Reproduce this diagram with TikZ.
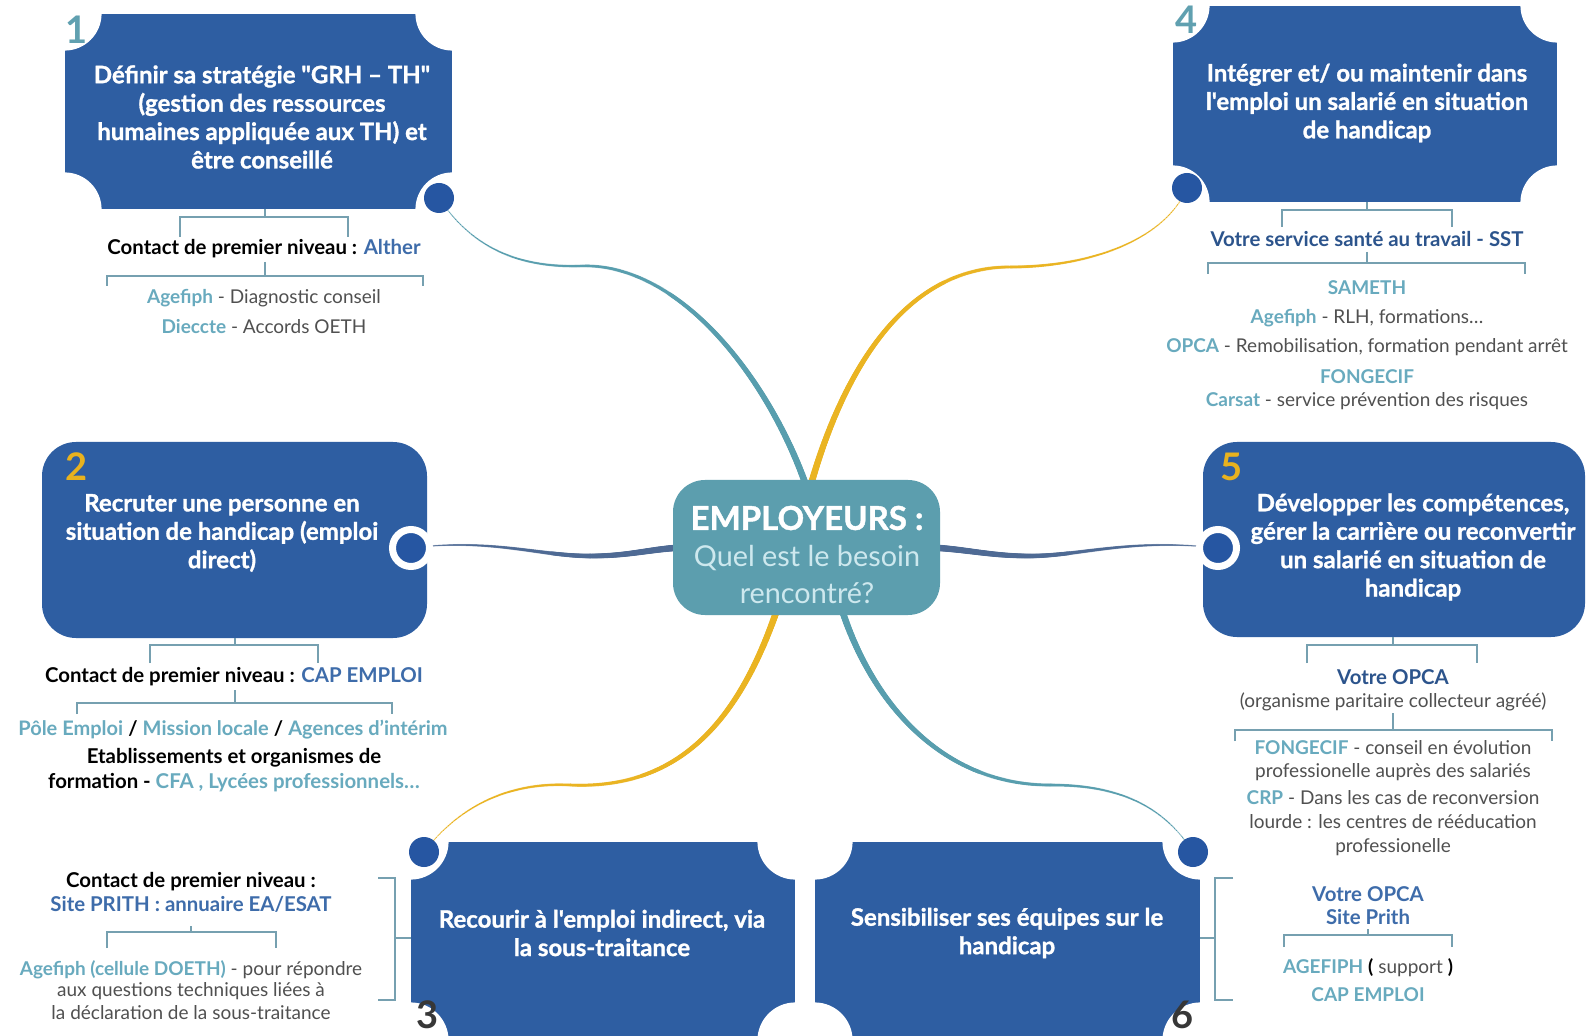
\documentclass[tikz,border=0pt]{standalone}
\usepackage{fontspec}
\setmainfont{Lato}
\newfontfamily\heavyfont{Lato}[BoldFeatures={FakeBold=1.2}]
\usetikzlibrary{decorations.markings,calc}
\definecolor{boxblue}{RGB}{46,94,162}
\definecolor{dotblue}{RGB}{38,86,162}
\definecolor{tealc}{RGB}{88,158,174}
\definecolor{goldc}{RGB}{234,180,34}
\definecolor{slatec}{RGB}{78,106,148}
\definecolor{cfill}{RGB}{92,158,174}
\definecolor{lteal}{RGB}{104,170,190}
\definecolor{midblue}{RGB}{62,108,170}
\definecolor{darkblue}{RGB}{44,84,140}
\definecolor{graytxt}{RGB}{80,80,80}
\definecolor{brkc}{RGB}{118,160,176}
\definecolor{numteal}{RGB}{96,160,176}
\definecolor{numgold}{RGB}{232,178,30}
\definecolor{numdark}{RGB}{55,55,55}
\definecolor{csub}{RGB}{205,232,238}
\newcommand\tealb[1]{{\color{lteal}\bfseries #1}}
\newcommand\blueb[1]{{\color{midblue}\bfseries #1}}
\newcommand\darkb[1]{{\color{darkblue}\bfseries #1}}
\pgfdeclarelayer{bgw}
\pgfdeclarelayer{boxes}
\pgfdeclarelayer{conn}
\pgfsetlayers{bgw,boxes,conn,main}
\begin{document}
\begin{tikzpicture}[x=0.5pt,y=-0.5pt,
  nbox/.style={rectangle, fill=boxblue, inner sep=0pt, draw=none},
  btxt/.style={text=white, font=\fontsize{12}{14.2}\selectfont\heavyfont\bfseries, align=center, inner sep=0pt},
  ctxt/.style={font=\fontsize{10.2}{12}\selectfont\bfseries, inner sep=0pt, text=black},
  gtxt/.style={font=\fontsize{9.5}{11}\selectfont, inner sep=0pt, text=graytxt},
  brk/.style={draw=brkc, line width=0.8pt},
  dot/.style={circle, fill=dotblue, minimum size=15pt, inner sep=0pt},
  rdot/.style={circle, fill=dotblue, draw=white, line width=3.5pt, minimum size=18.5pt, inner sep=0pt},
  num/.style={font=\fontsize{19}{19}\selectfont\bfseries, inner sep=0pt},
  taper/.style n args={3}{decorate, decoration={markings,
      mark=between positions 0 and 1 step 0.5pt with {%
        \pgfmathsetmacro\tpr{#2+(#3-#2)*\pgfkeysvalueof{/pgf/decoration/mark info/distance from start}/\pgfdecoratedpathlength}%
        \fill[#1] (0,0) circle[radius=\tpr pt];}}}
]
\useasboundingbox (0,0) rectangle (1588,1036);
\begin{pgfonlayer}{bgw}
\fill[white] (0,0) rectangle (1588,1036);
\end{pgfonlayer}

% ---------- boxes ----------
\begin{pgfonlayer}{boxes}
\node[nbox, minimum width=193.5pt, minimum height=97.5pt] (b1) at (258.5,111.5) {};
\node[nbox, minimum width=192pt, minimum height=98pt] (b4) at (1365,104) {};
\node[nbox, minimum width=192pt, minimum height=99pt] (b3) at (603,941) {};
\node[nbox, minimum width=192.5pt, minimum height=99pt] (b6) at (1007.5,941) {};
\node[nbox, rounded corners=17pt, minimum width=192.5pt, minimum height=98pt] (b2) at (234.5,540) {};
\node[nbox, rounded corners=17pt, minimum width=191pt, minimum height=97.5pt] (b5) at (1394,539.5) {};
\foreach \a in {north west,north east,south west,south east}{
  \fill[white] (b1.\a) circle[radius=18.5pt];
  \fill[white] (b4.\a) circle[radius=18.5pt];
  \fill[white] (b3.\a) circle[radius=19pt];
  \fill[white] (b6.\a) circle[radius=19pt];
}
\end{pgfonlayer}

% ---------- centre ----------
\node[rectangle, fill=cfill, rounded corners=16pt, minimum width=133.5pt, minimum height=67.5pt, inner sep=0pt] (cn) at (806.5,547.5) {};
\node[font=\fontsize{16.5}{16}\selectfont\heavyfont\bfseries, text=white, inner sep=0pt] (ce) at (807,518) {EMPLOYEURS :};
\node[font=\fontsize{14.4}{14}\selectfont, text=csub, inner sep=0pt] (cq) at (807,558) {Quel est le besoin};
\node[font=\fontsize{14.4}{14}\selectfont, text=csub, inner sep=0pt] (cr) at (807,593) {rencontré?};

% ---------- dots ----------
\node[dot] (d1) at (439,198) {};
\node[dot] (d4) at (1187,188) {};
\node[dot] (d3) at (424,852) {};
\node[dot] (d6) at (1193,852) {};
\node[rdot] (d2) at (411,548) {};
\node[rdot] (d5) at (1218,548) {};

% ---------- connectors ----------
\begin{pgfonlayer}{conn}
\path[taper={tealc}{0.25}{1.7}] (d1.center) .. controls (470,245) and (515,268) .. (580,266) .. controls (680,262) and (770,380) .. ($(cn.north)+(1,10)$);
\path[taper={goldc}{0.25}{1.7}] (d4.center) .. controls (1165,240) and (1090,267) .. (1010,267) .. controls (900,267) and (840,380) .. ($(cn.north)+(3,10)$);
\path[taper={goldc}{0.25}{1.7}] (d3.center) .. controls (460,805) and (510,782) .. (570,785) .. controls (680,790) and (740,720) .. ($(cn.south)+(-28,-10)$);
\path[taper={tealc}{0.25}{1.7}] (d6.center) .. controls (1160,800) and (1110,785) .. (1050,785) .. controls (940,785) and (870,700) .. ($(cn.south)+(34,-10)$);
\path[taper={slatec}{0.25}{1.7}] (d2.center) .. controls (490,538) and (540,556) .. (590,556) .. controls (630,556) and (650,549) .. ($(cn.west)+(10,0)$);
\path[taper={slatec}{0.25}{1.7}] (d5.center) .. controls (1130,538) and (1080,556) .. (1030,556) .. controls (990,556) and (965,549) .. ($(cn.east)+(-10,0)$);
\end{pgfonlayer}

% ---------- numbers ----------
\node[num, text=numteal] (n1) at (77,30) {1};
\node[num, text=numteal] (n4) at (1186,20) {4};
\node[num, text=numgold] (n2) at (77,467) {2};
\node[num, text=numgold] (n5) at (1231,467) {5};
\node[num, text=numdark] (n3) at (428,1015) {3};
\node[num, text=numdark] (n6) at (1182,1015) {6};

% ---------- box texts ----------
\node[btxt] (t1) at (262,117) {Définir sa stratégie "GRH – TH"\\(gestion des ressources\\humaines appliquée aux TH) et\\être conseillé};
\node[btxt] (t4) at (1367,103) {Intégrer et/ ou maintenir dans\\l'emploi un salarié en situation\\de handicap};
\node[btxt] (t2) at (222,533) {Recruter une personne en\\situation de handicap (emploi\\direct)};
\node[btxt] (t5) at (1413,547) {Développer les compétences,\\gérer la carrière ou reconvertir\\un salarié en situation de\\handicap};
\node[btxt] (t3) at (602,933) {Recourir à l'emploi indirect, via\\la sous-traitance};
\node[btxt] (t6) at (1007,933) {Sensibiliser ses équipes sur le\\handicap};

% ---------- box 1 contacts ----------
\draw[brk] (265,209) -- (265,217) (180,237) -- (180,217) -- (348,217) -- (348,237);
\node[ctxt] (c1a) at (264,249) {Contact de premier niveau : \blueb{Alther}};
\draw[brk] (265,262) -- (265,276) (107,286) -- (107,276) -- (423,276) -- (423,286);
\node[gtxt] (c1b) at (264,298) {\tealb{Agefiph} - Diagnostic conseil};
\node[gtxt] (c1c) at (264,327) {\tealb{Dieccte} - Accords OETH};

% ---------- box 4 contacts ----------
\draw[brk] (1367,202) -- (1367,210) (1282,227) -- (1282,210) -- (1452,210) -- (1452,227);
\node[ctxt] (c4a) at (1367,239) {\darkb{Votre service santé au travail - SST}};
\draw[brk] (1367,252) -- (1367,263) (1208,274) -- (1208,263) -- (1525,263) -- (1525,274);
\node[gtxt] (c4b) at (1367,288) {\tealb{SAMETH}};
\node[gtxt] (c4c) at (1367,318) {\tealb{Agefiph} - RLH, formations…};
\node[gtxt] (c4d) at (1367,347) {\tealb{OPCA} - Remobilisation, formation pendant arrêt};
\node[gtxt] (c4e) at (1367,377) {\tealb{FONGECIF}};
\node[gtxt] (c4f) at (1367,401) {\tealb{Carsat} - service prévention des risques};

% ---------- box 2 contacts ----------
\draw[brk] (235,638) -- (235,645) (150,663) -- (150,645) -- (318,645) -- (318,663);
\node[ctxt] (c2a) at (234,677) {Contact de premier niveau : \blueb{CAP EMPLOI}};
\draw[brk] (235,690) -- (235,703) (77,714) -- (77,703) -- (392,703) -- (392,714);
\node[gtxt, font=\fontsize{10}{11}\selectfont] (c2b) at (233,730) {\tealb{Pôle Emploi} \textbf{\color{black}/} \tealb{Mission locale} \textbf{\color{black}/} \tealb{Agences d’intérim}};
\node[ctxt] (c2c) at (234,758) {Etablissements et organismes de};
\node[ctxt] (c2d) at (234,783) {formation - \tealb{CFA , Lycées professionnels…}};

% ---------- box 5 contacts ----------
\draw[brk] (1393,637) -- (1393,645) (1307,663) -- (1307,645) -- (1477,645) -- (1477,663);
\node[ctxt] (c5a) at (1393,677) {\darkb{Votre OPCA}};
\node[gtxt] (c5b) at (1393,702) {(organisme paritaire collecteur agréé)};
\draw[brk] (1393,713) -- (1393,730) (1235,741) -- (1235,730) -- (1552,730) -- (1552,741);
\node[gtxt] (c5c) at (1393,748) {\tealb{FONGECIF} - conseil en évolution};
\node[gtxt] (c5d) at (1393,772) {professionelle auprès des salariés};
\node[gtxt] (c5e) at (1393,798) {\tealb{CRP} - Dans les cas de reconversion};
\node[gtxt] (c5f) at (1393,822) {lourde : les centres de rééducation};
\node[gtxt] (c5g) at (1393,847) {professionelle};

% ---------- box 3 contacts ----------
\draw[brk] (378,878) -- (395,878) -- (395,1000) -- (378,1000) (395,938) -- (b3.west |- 0,938);
\node[ctxt] (c3a) at (191,882) {Contact de premier niveau :};
\node[ctxt] (c3b) at (191,904) {\blueb{Site PRITH : annuaire EA/ESAT}};
\draw[brk] (191,926) -- (191,932) (107,948) -- (107,932) -- (276,932) -- (276,948);
\node[gtxt] (c3c) at (191,970) {\tealb{Agefiph (cellule DOETH)} - pour répondre};
\node[gtxt] (c3d) at (191,991) {aux questions techniques liées à};
\node[gtxt] (c3e) at (191,1013) {la déclaration de la sous-traitance};

% ---------- box 6 contacts ----------
\draw[brk] (1233,878) -- (1215,878) -- (1215,1000) -- (1233,1000) (1215,938) -- (b6.east |- 0,938);
\node[ctxt] (c6a) at (1368,894) {\blueb{Votre OPCA}};
\node[ctxt] (c6b) at (1368,917) {\blueb{Site Prith}};
\draw[brk] (1368,929) -- (1368,935) (1284,947) -- (1284,935) -- (1452,935) -- (1452,947);
\node[gtxt] (c6c) at (1368,968) {\tealb{AGEFIPH} \textbf{\color{black}(} support \textbf{\color{black})}};
\node[gtxt] (c6d) at (1368,995) {\tealb{CAP EMPLOI}};
\end{tikzpicture}
\end{document}
